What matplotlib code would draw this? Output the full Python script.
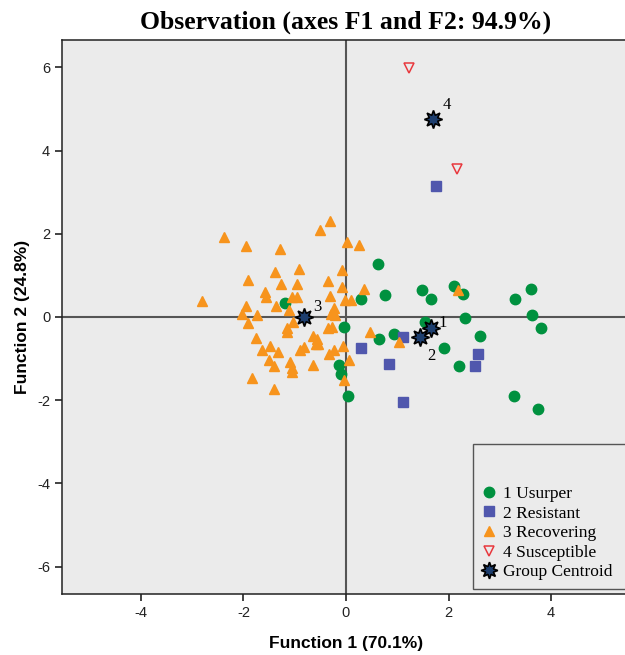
import numpy as np
import matplotlib
matplotlib.use('Agg')
import matplotlib.pyplot as plt
from matplotlib.lines import Line2D
from matplotlib.patches import Rectangle

plt.rcParams['axes.unicode_minus'] = False

# group 1 - Usurper
usurperX = [-1.19, 0.29, 0.62, -0.03, 0.65, -0.14, -0.09, 0.03, 0.77, 1.48, 1.66, 2.10, 2.29,
            3.29, 3.61, 2.33, 3.62, 3.80, 2.61, 1.54, 0.94, 1.92, 2.21, 3.28, 3.74]
usurperY = [0.34, 0.43, 1.28, -0.24, -0.54, -1.15, -1.36, -1.91, 0.53, 0.64, 0.43, 0.74, 0.55,
            0.43, 0.67, -0.02, 0.04, -0.26, -0.46, -0.12, -0.42, -0.75, -1.18, -1.90, -2.20]

# group 2 - Resistant
resistX = [1.12, 0.29, 0.84, 2.57, 2.51, 1.12, 1.75]
resistY = [-0.49, -0.75, -1.12, -0.89, -1.18, -2.05, 3.15]

# group 3 - Recovering
recovX = [-0.31, -0.50, -2.38, -1.96, -1.29, 0.01, 0.26, -1.39, -0.91, -1.92, -1.26, -0.95, -0.35,
          -0.08, -0.08, 0.36, -1.58, -1.57, -2.81, -1.05, -0.96, -0.31, -0.01, 0.10, -1.95, -1.36,
          -2.03, -1.73, -1.11, -1.04, -0.23, -0.21, -0.29, -1.91, -1.16, -1.15, -0.36, -0.28, 0.47,
          -1.76, -0.64, -0.57, -0.54, -0.59, -1.48, -1.64, -1.33, -0.90, -0.82, -0.23, -0.33, -0.06,
          -1.51, -1.40, -1.09, -1.05, -1.06, -0.65, 0.05, -0.03, -1.84, -1.40, 2.19, 1.03]
recovY = [2.31, 2.09, 1.92, 1.70, 1.64, 1.81, 1.73, 1.09, 1.15, 0.88, 0.80, 0.80, 0.87,
          1.12, 0.72, 0.67, 0.61, 0.47, 0.39, 0.47, 0.47, 0.51, 0.40, 0.42, 0.26, 0.27,
          0.08, 0.06, 0.16, -0.13, 0.21, 0.05, 0.08, -0.14, -0.26, -0.37, -0.27, -0.24, -0.37,
          -0.50, -0.45, -0.53, -0.64, -0.66, -0.69, -0.80, -0.85, -0.80, -0.72, -0.79, -0.90, -0.70,
          -1.03, -1.17, -1.09, -1.23, -1.33, -1.15, -1.04, -1.51, -1.46, -1.73, 0.64, -0.60]

# group 4 - Susceptible
suscX = [1.23, 2.16]
suscY = [5.98, 3.55]

# group centroids
centLabels = ['1', '2', '3', '4']
centX = [1.66, 1.45, -0.82, 1.69]
centY = [-0.26, -0.48, 0.00, 4.77]

cGreen = '#00913f'
cBlue = '#5057ad'
cOrange = '#f7941d'
cRed = '#e8383d'
cNavy = '#1d3e6e'
bg = '#ebebeb'

fig = plt.figure(figsize=(6.25, 6.55), dpi=100)
ax = fig.add_axes([62/625., 61/655., 568/625., 554/655.])
ax.set_facecolor(bg)

ax.axhline(0, color='#555555', lw=1.5, zorder=1)
ax.axvline(0, color='#555555', lw=1.5, zorder=1)

ax.plot(usurperX, usurperY, 'o', color=cGreen, ms=7.5, mec=cGreen, zorder=3)
ax.plot(resistX, resistY, 's', color=cBlue, ms=7, mec=cBlue, zorder=3)
ax.plot(recovX, recovY, '^', color=cOrange, ms=7, mec=cOrange, zorder=3)
ax.plot(suscX, suscY, 'v', mfc='none', mec=cRed, ms=7, mew=1.1, zorder=3)
ax.plot(centX, centY, marker=(8, 1, 0), ls='none', mfc=cNavy, mec='black', ms=13, mew=1.2, zorder=4)

offs = {'1': (0.22, 0.12), '2': (0.22, -0.45), '3': (0.26, 0.25), '4': (0.27, 0.32)}
for lab, x, y in zip(centLabels, centX, centY):
    dx, dy = offs[lab]
    ax.text(x + dx, y + dy, lab, family='Liberation Serif', fontsize=12, ha='center', va='center', zorder=5)

ax.set_xlim(-5.54, 5.54)
ax.set_ylim(-6.66, 6.66)
ax.set_xticks([-4, -2, 0, 2, 4])
ax.set_yticks([-6, -4, -2, 0, 2, 4, 6])
ax.tick_params(direction='out', length=5, width=1.2, labelsize=10.5, colors='#222222')
for t in ax.get_xticklabels() + ax.get_yticklabels():
    t.set_family('Liberation Sans')
for s in ['left', 'bottom', 'top']:
    ax.spines[s].set_linewidth(1.1)
    ax.spines[s].set_color('#222222')
ax.spines['right'].set_visible(False)

ax.set_xlabel('Function 1 (70.1%)', fontsize=12.5, fontweight='bold', family='Liberation Sans', labelpad=12)
ax.set_ylabel('Function 2 (24.8%)', fontsize=12.5, fontweight='bold', family='Liberation Sans', labelpad=5)

fig.text(346/625., 1 - 22/655., 'Observation (axes F1 and F2: 94.9%)', ha='center', va='center',
         family='Liberation Serif', fontweight='bold', fontsize=18.5)

# legend box (SPSS style, empty space on top)
ax.add_patch(Rectangle((0.7236, 0.009), 0.3, 0.262, transform=ax.transAxes,
                       facecolor=bg, edgecolor='#555555', lw=1, zorder=6, clip_on=False))
handles = [Line2D([], [], ls='none', marker='o', color=cGreen, ms=7.5),
           Line2D([], [], ls='none', marker='s', color=cBlue, ms=7),
           Line2D([], [], ls='none', marker='^', color=cOrange, ms=7),
           Line2D([], [], ls='none', marker='v', mfc='none', mec=cRed, ms=7, mew=1.1),
           Line2D([], [], ls='none', marker=(8, 1, 0), mfc=cNavy, mec='black', ms=12, mew=1.2)]
labels = ['1 Usurper', '2 Resistant', '3 Recovering', '4 Susceptible', 'Group Centroid']
leg = ax.legend(handles, labels, loc='lower left', bbox_to_anchor=(0.728, 0.012), frameon=False,
                prop={'family': 'Liberation Serif', 'size': 12.5}, handlelength=0.8,
                handletextpad=0.4, labelspacing=0.2, borderaxespad=0)
leg.set_zorder(7)

fig.savefig('out.png', dpi=100)
